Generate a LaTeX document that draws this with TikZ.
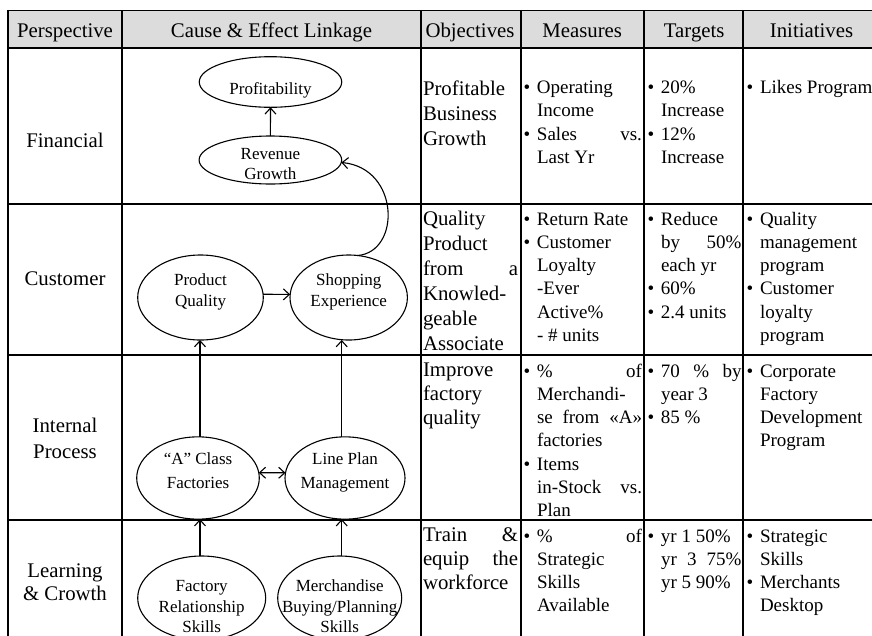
\documentclass[tikz,border=0pt]{standalone}
\usepackage{fontspec}
\setmainfont{Liberation Serif}
\usetikzlibrary{arrows.meta,shapes.geometric}
\definecolor{hdrgray}{RGB}{220,220,220}
\newcommand{\obj}[2]{\begin{minipage}[t]{95pt}\fontsize{20.8}{#1}\selectfont #2\end{minipage}}
\newcommand{\lst}[2]{\begin{minipage}[t]{#1pt}\fontsize{19}{23.3}\selectfont #2\end{minipage}}
\newcommand{\bi}[1]{\hangindent=13.5pt\hangafter=1\noindent\makebox[13.5pt][l]{\textbullet}#1\par}
\newcommand{\etx}[2]{\begin{minipage}[t]{140pt}\centering\fontsize{17}{#1}\selectfont #2\end{minipage}}
\newcommand{\per}[1]{\begin{minipage}[t]{110pt}\centering\fontsize{20.8}{25}\selectfont #1\end{minipage}}
\tikzset{
  grid/.style={line width=1.2pt, black, line cap=rect},
  ell/.style={draw, ellipse, line width=1.1pt, inner sep=0pt, outer sep=0pt},
  arr/.style={line width=1.1pt, -{Straight Barb[length=6pt,width=11pt]}},
  arrb/.style={line width=1.1pt, {Straight Barb[length=6pt,width=11pt]}-{Straight Barb[length=6pt,width=11pt]}},
  txt/.style={inner sep=0pt, outer sep=0pt, anchor=base west},
  ctr/.style={inner sep=0pt, outer sep=0pt, anchor=base},
  hd/.style={inner sep=0pt, outer sep=0pt, anchor=base, font=\fontsize{20.8}{25}\selectfont},
}
\begin{document}
\begin{tikzpicture}[x=1pt,y=-1pt]
\useasboundingbox (0,0) rectangle (872,635);
% header band
\fill[hdrgray] (8,10.5) rectangle (872,48);
% grid
\foreach \y in {10.5,48,204,355,520} \draw[grid] (8,\y) -- (872,\y);
\foreach \x in {8,122,421,521,644,743} \draw[grid] (\x,10.5) -- (\x,635);
% header
\node[hd] (h1) at (65,37) {Perspective};
\node[hd] (h2) at (271.5,37) {Cause \& Effect Linkage};
\node[hd] (h3) at (470,37) {Objectives};
\node[hd] (h4) at (582.2,37) {Measures};
\node[hd] (h5) at (694.2,37) {Targets};
\node[hd] (h6) at (811.5,37) {Initiatives};
% perspectives
\node[ctr] (p1) at (65,147) {\per{Financial}};
\node[ctr] (p2) at (65,285.4) {\per{Customer}};
\node[ctr] (p3) at (65,432) {\per{Internal\\[1.5pt]Process}};
\node[ctr] (p4) at (65,577) {\per{Learning\\[-1.5pt]\& Crowth}};
% ellipses
\node[ell, minimum width=142.5pt, minimum height=50.6pt] (prof) at (270.5,82) {};
\node[ell, minimum width=142.6pt, minimum height=48pt] (rg) at (270.4,160) {};
\node[ell, minimum width=125.6pt, minimum height=85pt] (pq) at (200.5,297.5) {};
\node[ell, minimum width=117.4pt, minimum height=85pt] (se) at (348.7,297.5) {};
\node[ell, minimum width=122.6pt, minimum height=82.3pt] (acf) at (198,478) {};
\node[ell, minimum width=120pt, minimum height=82.3pt] (lpm) at (345,478) {};
\node[ell, minimum width=128pt, minimum height=84pt] (frs) at (201.7,598) {};
\node[ell, minimum width=124pt, minimum height=84pt] (mbps) at (339.7,598) {};
% ellipse texts
\node[ctr] (prof-t) at (270.5,94.6) {\etx{20}{Profitability}};
\node[ctr] (rg-t) at (270.4,159.6) {\etx{20}{Revenue\\Growth}};
\node[ctr] (pq-t) at (200.5,285.3) {\etx{21}{Product\\Quality}};
\node[ctr] (se-t) at (348.7,285.3) {\etx{21}{Shopping\\Experience}};
\node[ctr] (acf-t) at (198,464.6) {\etx{23.4}{“A” Class\\Factories}};
\node[ctr] (lpm-t) at (345,464.6) {\etx{23.4}{Line Plan\\Management}};
\node[ctr] (frs-t) at (201.7,591.5) {\etx{20.5}{Factory\\Relationship\\Skills}};
\node[ctr] (mbps-t) at (339.7,591.5) {\etx{20.5}{Merchandise\\Buying/Planning\\Skills}};
% connectors
\coordinate (cA) at (200,0);
\coordinate (cB) at (341.7,0);
\draw[arr] (rg.north) -- (prof.south);
\draw[arr] (pq.3) -- (se.177);
\draw[arr] (acf.north -| cA) -- (pq.south -| cA);
\draw[arr] (lpm.north -| cB) -- (se.south -| cB);
\draw[arr] (frs.north -| cA) -- (acf.south -| cA);
\draw[arr] (mbps.north -| cB) -- (lpm.south -| cB);
\draw[arrb] (acf.5) -- (lpm.175);
\draw[arr] (se.78) .. controls (401,252) and (400,168) .. (rg.-2);
% objectives
\node[txt] (o1) at (423,95) {\obj{25}{Profitable\\Business\\Growth}};
\node[txt] (o2) at (423,225.5) {\obj{25}{Quality\\Product\\from\hfill a\\Knowled-\\geable\\Associate}};
\node[txt] (o3) at (423,376) {\obj{24.3}{Improve\\factory\\quality}};
\node[txt] (o4) at (423,541.5) {\obj{23.8}{Train\hfill\&\\equip\hfill the\\workforce}};
% measures
\node[txt] (m1) at (523.5,93.4) {\lst{118.5}{\bi{Operating\\Income}\bi{Sales\hfill vs.\\Last Yr}}};
\node[txt] (m2) at (523.5,225) {\lst{118.5}{\bi{Return Rate}\bi{Customer\\Loyalty\\-Ever\\Active\%\\- \# units}}};
\node[txt] (m3) at (523.5,377) {\lst{118.5}{\bi{\%\hfill of\\Merchandi-\\se\hfill from\hfill «A»\\factories}\bi{Items\\in-Stock\hfill vs.\\Plan}}};
\node[txt] (m4) at (523.5,542) {\lst{118.5}{\bi{\%\hfill of\\Strategic\\Skills\\Available}}};
% targets
\node[txt] (t1) at (647.5,93.4) {\lst{94}{\bi{20\%\\Increase}\bi{12\%\\Increase}}};
\node[txt] (t2) at (647.5,225) {\lst{94}{\bi{Reduce\\by\hfill 50\%\\each yr}\bi{60\%}\bi{2.4 units}}};
\node[txt] (t3) at (647.5,377) {\lst{94}{\bi{70\hfill \%\hfill by\\year 3}\bi{85 \%}}};
\node[txt] (t4) at (647.5,542) {\lst{94}{\bi{yr 1 50\%\\yr\hfill 3\hfill 75\%\\yr 5 90\%}}};
% initiatives
\node[txt] (i1) at (746.5,93.4) {\lst{135}{\bi{\mbox{Likes Program}}}};
\node[txt] (i2) at (746.5,225) {\lst{135}{\bi{Quality\\management\\program}\bi{Customer\\loyalty\\program}}};
\node[txt] (i3) at (746.5,377) {\lst{135}{\bi{Corporate\\Factory\\Development\\Program}}};
\node[txt] (i4) at (746.5,542) {\lst{135}{\bi{Strategic\\Skills}\bi{Merchants\\Desktop}}};
\end{tikzpicture}
\end{document}
